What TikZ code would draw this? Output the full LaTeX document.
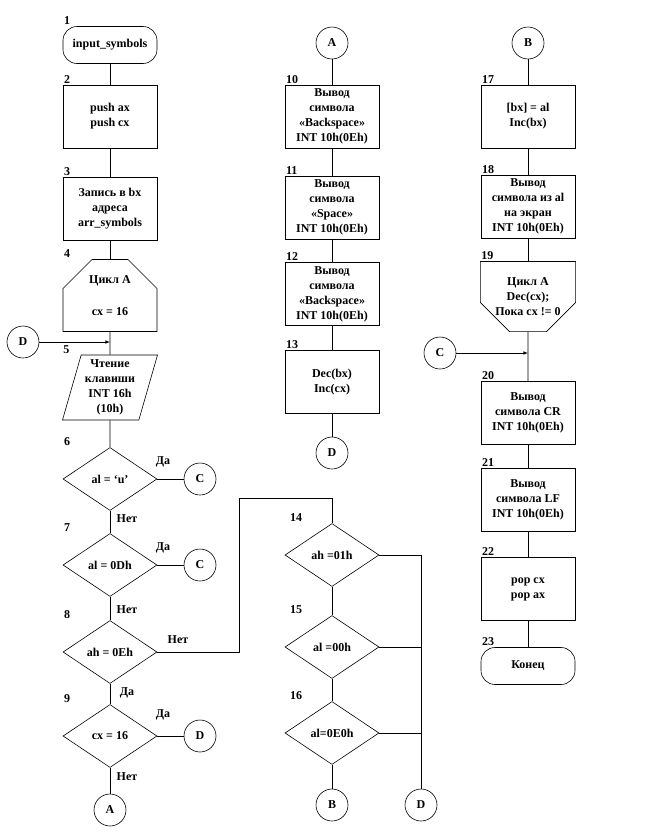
\documentclass[tikz,border=0pt]{standalone}
\usepackage{fontspec}
\setmainfont{Liberation Serif}
\usetikzlibrary{shapes.geometric,shapes.misc}

\begin{document}
\begin{tikzpicture}[x=1pt,y=-1pt,line width=0.6pt,
  every node/.style={font=\bfseries\fontsize{12}{15}\selectfont},
  opbox/.style={draw, rectangle, minimum width=94pt, minimum height=63pt, align=center, inner sep=1pt},
  termbox/.style={draw, rectangle, rounded corners=14pt, minimum width=94pt, minimum height=37pt},
  decbox/.style={draw, diamond, aspect=1.5, minimum width=94pt, minimum height=63pt, inner sep=0pt},
  loopbox/.style={draw, chamfered rectangle, chamfered rectangle xsep=14pt, chamfered rectangle ysep=15pt,
    minimum width=94pt, minimum height=65pt, align=center, inner sep=1pt},
  inbox/.style={draw, trapezium, trapezium left angle=72, trapezium right angle=108, trapezium stretches body,
    minimum width=95pt, minimum height=65pt, align=center, inner sep=1pt},
  conn/.style={draw, circle, minimum size=32pt, inner sep=0pt},
  numlbl/.style={anchor=south west, inner sep=1pt},
  ansr/.style={inner sep=1pt}]
  \useasboundingbox (0,0) rectangle (652,836);

  % column 1
  \node[termbox] (b1) at (110,45) {input\_symbols};
  \node[opbox] (b2) at (110,116.5) {push ax\\push cx};
  \node[opbox] (b3) at (110,208.5) {Запись в bx\\адреса\\arr\_symbols};
  \node[loopbox, chamfered rectangle corners={north west,north east}] (b4) at (110,295.5) {Цикл A\\[17pt]cx = 16};
  \node[conn] (dIn) at (23,342) {D};
  \coordinate (j5) at (110,342);
  \node[inbox] (b5) at (110,387.5) {Чтение\\клавиши\\INT 16h\\(10h)};
  \node[decbox] (b6) at (110,479) {al = ‘u’};
  \node[conn] (cC1) at (200,479) {C};
  \node[decbox] (b7) at (110,565) {al = 0Dh};
  \node[conn] (cC2) at (200,565) {C};
  \node[decbox] (b8) at (110,652) {ah = 0Eh};
  \node[decbox] (b9) at (110,736) {cx = 16};
  \node[conn] (cD1) at (200,736) {D};
  \node[conn] (cA1) at (110,810) {A};

  \node[numlbl] (n1) at (b1.north west) {1};
  \node[numlbl] (n2) at (b2.north west) {2};
  \node[numlbl] (n3) at (b3.north west) {3};
  \node[numlbl] (n4) at (b4.west |- b4.north) {4};
  \node[numlbl] (n5) at (b5.bottom left corner |- b5.north) {5};
  \node[numlbl] (n6) at (b6.west |- b6.north) {6};
  \node[numlbl] (n7) at (b7.west |- b7.north) {7};
  \node[numlbl] (n8) at (b8.west |- b8.north) {8};
  \node[numlbl] (n9) at (b9.west |- b9.north) {9};

  \draw (b1) -- (b2);
  \draw (b2) -- (b3);
  \draw (b3) -- (b4);
  \draw (b4) -- (b5);
  \draw[-latex] (dIn) -- (j5);
  \draw (b5) -- (b6);
  \draw (b6) -- (b7);
  \draw (b7) -- (b8);
  \draw (b8) -- (b9);
  \draw (b9) -- (cA1);
  \draw (b6) -- (cC1);
  \draw (b7) -- (cC2);
  \draw (b9) -- (cD1);

  \node[ansr] (y6) at (163,462) {Да};
  \node[ansr] (no6) at (127,519) {Нет};
  \node[ansr] (y7) at (163,548) {Да};
  \node[ansr] (no7) at (127,610) {Нет};
  \node[ansr] (no8) at (178,640) {Нет};
  \node[ansr] (y8) at (127,693) {Да};
  \node[ansr] (y9) at (163,715) {Да};
  \node[ansr] (no9) at (127,777) {Нет};

  % column 2
  \node[conn] (cA2) at (332,43) {A};
  \node[opbox] (b10) at (332,116.5) {Вывод\\символа\\«Backspace»\\INT 10h(0Eh)};
  \node[opbox] (b11) at (332,207.5) {Вывод\\символа\\«Space»\\INT 10h(0Eh)};
  \node[opbox] (b12) at (332,294) {Вывод\\символа\\«Backspace»\\INT 10h(0Eh)};
  \node[opbox] (b13) at (332,382) {Dec(bx)\\Inc(cx)};
  \node[conn] (cD2) at (332,453) {D};
  \node[decbox] (b14) at (332,555) {ah =01h};
  \node[decbox] (b15) at (332,647) {al =00h};
  \node[decbox] (b16) at (332,733) {al=0E0h};
  \node[conn] (cB1) at (332,805) {B};
  \node[conn] (cD3) at (421,805) {D};
  \coordinate (k1) at (239,498);

  \node[numlbl] (n10) at (b10.north west) {10};
  \node[numlbl] (n11) at (b11.north west) {11};
  \node[numlbl] (n12) at (b12.north west) {12};
  \node[numlbl] (n13) at (b13.north west) {13};
  \node[numlbl] (n14) at ([xshift=4pt]b14.west |- b14.north) {14};
  \node[numlbl] (n15) at ([xshift=4pt]b15.west |- b15.north) {15};
  \node[numlbl] (n16) at ([xshift=4pt]b16.west |- b16.north) {16};

  \draw (cA2) -- (b10);
  \draw (b10) -- (b11);
  \draw (b11) -- (b12);
  \draw (b12) -- (b13);
  \draw (b13) -- (cD2);
  \draw (b8.east) -| (k1) -| (b14.north);
  \draw (b14) -- (b15);
  \draw (b15) -- (b16);
  \draw (b16) -- (cB1);
  \draw (b14.east) -- (b14.east -| cD3) -- (cD3);
  \draw (b15.east) -- (b15.east -| cD3);
  \draw (b16.east) -- (b16.east -| cD3);

  % column 3
  \node[conn] (cB2) at (528,43) {B};
  \node[opbox] (b17) at (528,116.5) {[bx] = al\\Inc(bx)};
  \node[opbox] (b18) at (528,206.5) {Вывод\\символа из al\\на экран\\INT 10h(0Eh)};
  \node[loopbox, chamfered rectangle corners={south west,south east}] (b19) at (528,296.5) {Цикл A\\Dec(cx);\\Пока cx != 0};
  \node[conn] (cC3) at (440,353) {C};
  \coordinate (j20) at (528,353);
  \node[opbox] (b20) at (528,413) {Вывод\\символа CR\\INT 10h(0Eh)};
  \node[opbox] (b21) at (528,499.5) {Вывод\\символа LF\\INT 10h(0Eh)};
  \node[opbox] (b22) at (528,589) {pop cx\\pop ax};
  \node[termbox] (b23) at (528,666) {Конец};

  \node[numlbl] (n17) at (b17.north west) {17};
  \node[numlbl] (n18) at (b18.north west) {18};
  \node[numlbl] (n19) at (b19.west |- b19.north) {19};
  \node[numlbl] (n20) at (b20.north west) {20};
  \node[numlbl] (n21) at (b21.north west) {21};
  \node[numlbl] (n22) at (b22.north west) {22};
  \node[numlbl] (n23) at (b23.north west) {23};

  \draw (cB2) -- (b17);
  \draw (b17) -- (b18);
  \draw (b18) -- (b19);
  \draw (b19) -- (b20);
  \draw[-latex] (cC3) -- (j20);
  \draw (b20) -- (b21);
  \draw (b21) -- (b22);
  \draw (b22) -- (b23);
\end{tikzpicture}
\end{document}
